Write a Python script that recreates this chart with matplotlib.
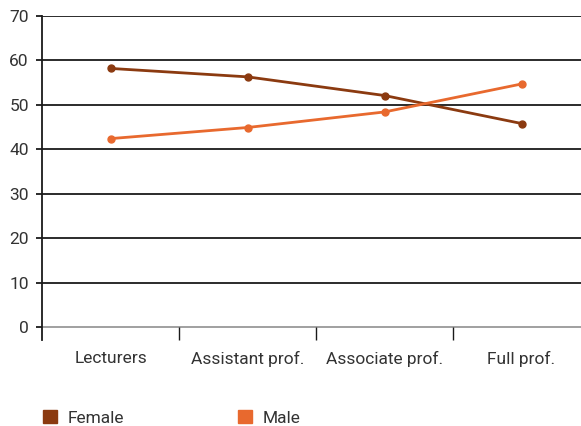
import matplotlib
matplotlib.use("Agg")
import matplotlib.pyplot as plt
from matplotlib.patches import Patch

categories = ["Lecturers", "Assistant prof.", "Associate prof.", "Full prof."]
female = [58.2, 56.3, 52.1, 45.8]
male = [42.4, 44.9, 48.4, 54.7]
yticks = [0, 10, 20, 30, 40, 50, 60, 70]

c_female = "#8B3A10"
c_male = "#E8692E"
txt = "#333333"

plt.rcParams["font.family"] = ["Roboto", "DejaVu Sans"]

fig = plt.figure(figsize=(5.81, 4.26), dpi=100)
ax = fig.add_axes([42/581, 1-340/426, 1-42/581, (340-16)/426])

x = list(range(len(categories)))
ax.plot(x, female, color=c_female, lw=2, marker="o", ms=5, zorder=3)
ax.plot(x, male, color=c_male, lw=2, marker="o", ms=5, zorder=3)

ax.set_ylim(-2.93, 70)
ax.set_xlim(-0.5, 3.434)

for v in yticks:
    if v == 0:
        ax.axhline(v, color="#999999", lw=1.3, zorder=1)
    else:
        ax.axhline(v, color="#1a1a1a", lw=1.3, zorder=1)

ax.set_yticks(yticks)
ax.set_yticklabels([str(v) for v in yticks], color=txt, fontsize=12.5)
ax.tick_params(axis="y", length=4.5, width=1.3, color="#1a1a1a", pad=5)

ax.set_xticks(x)
ax.set_xticklabels(categories, color=txt, fontsize=12.5)
ax.tick_params(axis="x", which="major", length=0, pad=8)
ax.set_xticks([0.5, 1.5, 2.5], minor=True)
ax.tick_params(axis="x", which="minor", direction="in", length=9.4, width=1, color="#1a1a1a")

for s in ["top", "right", "bottom"]:
    ax.spines[s].set_visible(False)
ax.spines["left"].set_color("#1a1a1a")
ax.spines["left"].set_linewidth(1.3)

handles = [Patch(color=c_female, label="Female"), Patch(color=c_male, label="Male")]
fig.legend(handles=handles, loc="center left", bbox_to_anchor=(43/581, 1-418/426),
           ncol=2, frameon=False, fontsize=12.5, handlelength=0.8, handleheight=0.8,
           columnspacing=6.6, handletextpad=0.6, labelcolor=txt,
           borderpad=0, borderaxespad=0)

fig.savefig("out.png", dpi=100)
